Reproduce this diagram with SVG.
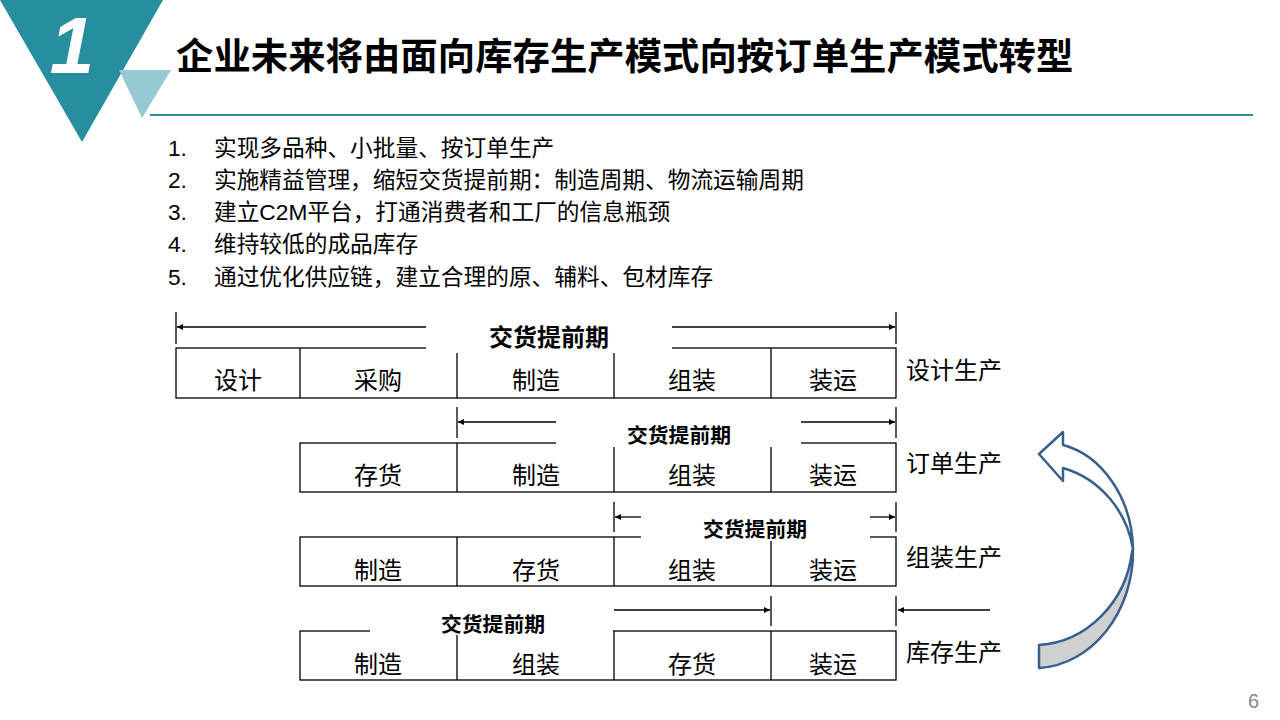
<svg xmlns="http://www.w3.org/2000/svg" width="1280" height="720" viewBox="0 0 1280 720">
<defs>
<style>
text{font-family:"Liberation Sans","Noto Sans CJK SC",sans-serif;fill:#000}
.title{font-size:37.4px;font-weight:bold}
.list{font-size:22.7px}
.cell{font-size:24px;text-anchor:middle}
.side{font-size:24px}
.lt1{font-size:24px;font-weight:bold;text-anchor:middle}
.lt{font-size:20.8px;font-weight:bold;text-anchor:middle}
.box{fill:#fff;stroke:#000;stroke-width:1.3}
.div{stroke:#000;stroke-width:1.3}
.arr{stroke:#000;stroke-width:1.3;fill:none;marker-end:url(#ah)}
.tick{stroke:#000;stroke-width:1.3}
.mask{fill:#fff}
.curve{stroke:#3A5F8E;stroke-width:2.5;stroke-linejoin:round}
</style>
<marker id="ah" viewBox="0 0 10 10" refX="10" refY="5" markerWidth="7" markerHeight="6" markerUnits="userSpaceOnUse" orient="auto">
<path d="M0,0 L10,5 L0,10 Z" fill="#000"/>
</marker>
</defs>
<rect width="1280" height="720" fill="#fff"/>

<g id="header">
<polygon points="0,0 163,0 82,142" fill="#268E9F"/>
<polygon points="119,70 171,70 142,118" fill="#96C9D3"/>
<text x="72" y="73" style="font-size:80px;font-weight:bold;font-style:italic;fill:#fff;text-anchor:middle">1</text>
<text class="title" x="176" y="70">企业未来将由面向库存生产模式向按订单生产模式转型</text>
<line x1="150" y1="115" x2="1253" y2="115" stroke="#2A90A0" stroke-width="2"/>
</g>

<g id="list">
<text class="list" x="168" y="156">1.</text><text class="list" x="214" y="156">实现多品种、小批量、按订单生产</text>
<text class="list" x="168" y="188">2.</text><text class="list" x="214" y="188">实施精益管理，缩短交货提前期：制造周期、物流运输周期</text>
<text class="list" x="168" y="220">3.</text><text class="list" x="214" y="220">建立C2M平台，打通消费者和工厂的信息瓶颈</text>
<text class="list" x="168" y="252">4.</text><text class="list" x="214" y="252">维持较低的成品库存</text>
<text class="list" x="168" y="285">5.</text><text class="list" x="214" y="285">通过优化供应链，建立合理的原、辅料、包材库存</text>
</g>

<g id="row1">
<rect class="box" x="176" y="348" width="720" height="50"/>
<line class="div" x1="300" y1="348" x2="300" y2="398"/>
<line class="div" x1="457" y1="348" x2="457" y2="398"/>
<line class="div" x1="614" y1="348" x2="614" y2="398"/>
<line class="div" x1="771" y1="348" x2="771" y2="398"/>
<rect class="mask" x="426" y="318" width="246" height="35"/>
<text class="lt1" x="549" y="346">交货提前期</text>
<text class="cell" x="238" y="389">设计</text>
<text class="cell" x="378" y="389">采购</text>
<text class="cell" x="536" y="389">制造</text>
<text class="cell" x="692" y="389">组装</text>
<text class="cell" x="833" y="389">装运</text>
<text class="side" x="906" y="379">设计生产</text>
</g>

<g id="row2">
<rect class="box" x="300" y="443" width="596" height="49"/>
<line class="div" x1="457" y1="443" x2="457" y2="492"/>
<line class="div" x1="614" y1="443" x2="614" y2="492"/>
<line class="div" x1="771" y1="443" x2="771" y2="492"/>
<rect class="mask" x="556" y="414" width="245" height="33"/>
<text class="lt" x="679" y="443">交货提前期</text>
<text class="cell" x="378" y="484">存货</text>
<text class="cell" x="536" y="484">制造</text>
<text class="cell" x="692" y="484">组装</text>
<text class="cell" x="833" y="484">装运</text>
<text class="side" x="906" y="472">订单生产</text>
</g>

<g id="row3">
<rect class="box" x="300" y="537" width="596" height="49"/>
<line class="div" x1="457" y1="537" x2="457" y2="586"/>
<line class="div" x1="614" y1="537" x2="614" y2="586"/>
<line class="div" x1="771" y1="537" x2="771" y2="586"/>
<rect class="mask" x="641" y="509" width="229" height="32"/>
<text class="lt" x="755" y="537">交货提前期</text>
<text class="cell" x="378" y="579">制造</text>
<text class="cell" x="536" y="579">存货</text>
<text class="cell" x="692" y="579">组装</text>
<text class="cell" x="833" y="579">装运</text>
<text class="side" x="906" y="566">组装生产</text>
</g>

<g id="row4">
<rect class="box" x="300" y="631" width="596" height="49"/>
<line class="div" x1="457" y1="631" x2="457" y2="680"/>
<line class="div" x1="614" y1="631" x2="614" y2="680"/>
<line class="div" x1="771" y1="631" x2="771" y2="680"/>
<rect class="mask" x="370" y="603" width="243" height="32"/>
<text class="lt" x="493" y="632">交货提前期</text>
<text class="cell" x="378" y="673">制造</text>
<text class="cell" x="536" y="673">组装</text>
<text class="cell" x="692" y="673">存货</text>
<text class="cell" x="833" y="673">装运</text>
<text class="side" x="906" y="661">库存生产</text>
</g>

<g id="connectors">
<line class="tick" x1="176" y1="312" x2="176" y2="344"/>
<line class="tick" x1="896" y1="312" x2="896" y2="344"/>
<line class="arr" x1="426" y1="327" x2="177" y2="327"/>
<line class="arr" x1="672" y1="327" x2="895" y2="327"/>
<line class="tick" x1="457" y1="407" x2="457" y2="438"/>
<line class="tick" x1="896" y1="407" x2="896" y2="438"/>
<line class="arr" x1="556" y1="422" x2="458" y2="422"/>
<line class="arr" x1="801" y1="422" x2="895" y2="422"/>
<line class="tick" x1="614" y1="502" x2="614" y2="532"/>
<line class="tick" x1="896" y1="502" x2="896" y2="532"/>
<line class="arr" x1="641" y1="517" x2="615" y2="517"/>
<line class="arr" x1="870" y1="517" x2="895" y2="517"/>
<line class="tick" x1="771" y1="596" x2="771" y2="626"/>
<line class="tick" x1="896" y1="596" x2="896" y2="626"/>
<line class="arr" x1="614" y1="610" x2="770" y2="610"/>
<line class="arr" x1="990" y1="610" x2="898" y2="610"/>
</g>

<g id="curved-arrow">
<path class="curve" fill="#D0D0D0" d="M1133,549 C1134,612 1092,665 1039,668 L1039,645 C1087,642 1126,602 1132,552 Z"/>
<path class="curve" fill="#fff" d="M1039,454 L1063,432 L1063,445 C1101,455 1132,497 1133,549 C1127,512 1101,479 1063,468 L1063,481 Z"/>
</g>

<text x="1248" y="708" style="font-size:20px;fill:#888">6</text>
</svg>
